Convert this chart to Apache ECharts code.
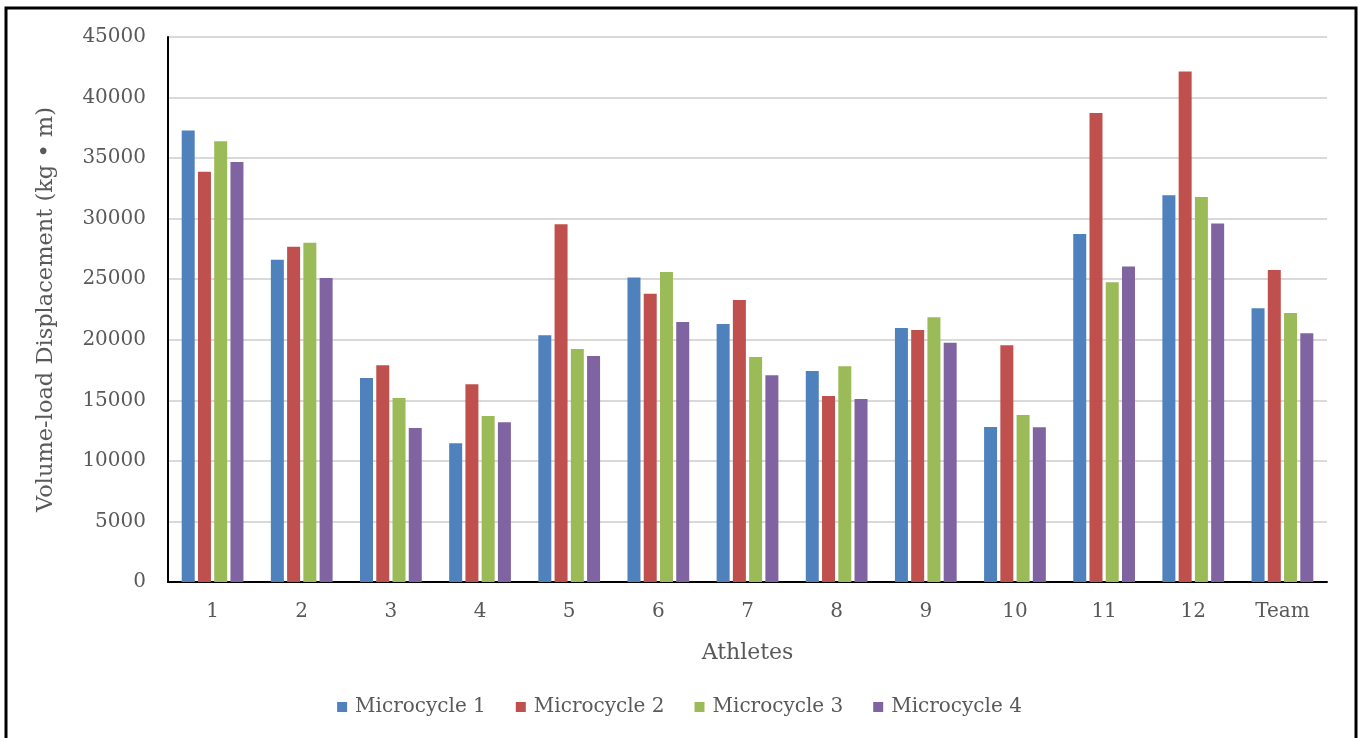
<!DOCTYPE html>
<html>
<head>
<meta charset="utf-8">
<script src="https://cdn.jsdelivr.net/npm/echarts@6/dist/echarts.min.js"></script>
<style>
  html, body { margin: 0; padding: 0; background: #ffffff; }
  #chart { width: 1359px; height: 738px; }
</style>
</head>
<body>
<div id="chart"></div>
<script>
// Athletes and per-microcycle volume-load displacement (kg • m)
const athletes = ['1', '2', '3', '4', '5', '6', '7', '8', '9', '10', '11', '12', 'Team'];
const microcycle1 = [37280, 26610, 16850, 11460, 20370, 25150, 21300, 17420, 20970, 12800, 28730, 31940, 22600];
const microcycle2 = [33870, 27680, 17890, 16330, 29530, 23800, 23280, 15360, 20810, 19540, 38730, 42150, 25760];
const microcycle3 = [36400, 28010, 15200, 13710, 19240, 25590, 18580, 17810, 21850, 13790, 24740, 31780, 22210];
const microcycle4 = [34670, 25100, 12720, 13190, 18660, 21470, 17070, 15110, 19760, 12780, 26060, 29610, 20530];
const seriesNames = ['Microcycle 1', 'Microcycle 2', 'Microcycle 3', 'Microcycle 4'];
const seriesColors = ['#4f81bd', '#c0504d', '#9bbb59', '#8064a2'];
const yTicks = { min: 0, max: 45000, interval: 5000 };

const textColor = '#595959';
const fontFamily = '"DejaVu Serif", serif';

const chart = echarts.init(document.getElementById('chart'), null, { renderer: 'canvas' });

const seriesData = [microcycle1, microcycle2, microcycle3, microcycle4];

chart.setOption({
  backgroundColor: '#ffffff',
  animation: false,
  textStyle: { fontFamily: fontFamily, color: textColor },
  graphic: [{
    // frame around the chart (open at the bottom edge)
    type: 'rect',
    shape: { x: 6, y: 8, width: 1350, height: 760 },
    style: { fill: 'none', stroke: '#000000', lineWidth: 3 },
    silent: true,
    z: 100
  }],
  grid: { left: 168, right: 32, top: 37, bottom: 156, containLabel: false },
  legend: {
    data: seriesNames,
    bottom: 16,
    left: 'center',
    icon: 'rect',
    itemWidth: 10,
    itemHeight: 10,
    itemGap: 30,
    textStyle: { fontFamily: fontFamily, color: textColor, fontSize: 20, padding: [0, 0, 0, 3] }
  },
  xAxis: {
    type: 'category',
    data: athletes,
    name: 'Athletes',
    nameLocation: 'middle',
    nameGap: 60,
    nameTextStyle: { fontFamily: fontFamily, color: textColor, fontSize: 22 },
    axisLine: { show: true, lineStyle: { color: '#000000', width: 2 } },
    axisTick: { show: false },
    axisLabel: { color: textColor, fontFamily: fontFamily, fontSize: 20, margin: 20 },
    splitLine: { show: false }
  },
  yAxis: {
    type: 'value',
    min: yTicks.min,
    max: yTicks.max,
    interval: yTicks.interval,
    name: 'Volume-load Displacement (kg • m)',
    nameLocation: 'middle',
    nameGap: 110,
    nameTextStyle: { fontFamily: fontFamily, color: textColor, fontSize: 22.5 },
    axisLine: { show: true, lineStyle: { color: '#000000', width: 2 } },
    axisTick: { show: false },
    axisLabel: {
      color: textColor, fontFamily: fontFamily, fontSize: 20, margin: 22,
      formatter: (v) => String(v)
    },
    splitLine: { show: true, lineStyle: { color: '#d9d9d9', width: 2 } }
  },
  series: seriesNames.map((name, i) => ({
    name: name,
    type: 'bar',
    data: seriesData[i],
    barWidth: 13,
    barGap: '25%',
    itemStyle: { color: seriesColors[i] },
    emphasis: { disabled: true }
  }))
});
</script>
</body>
</html>
